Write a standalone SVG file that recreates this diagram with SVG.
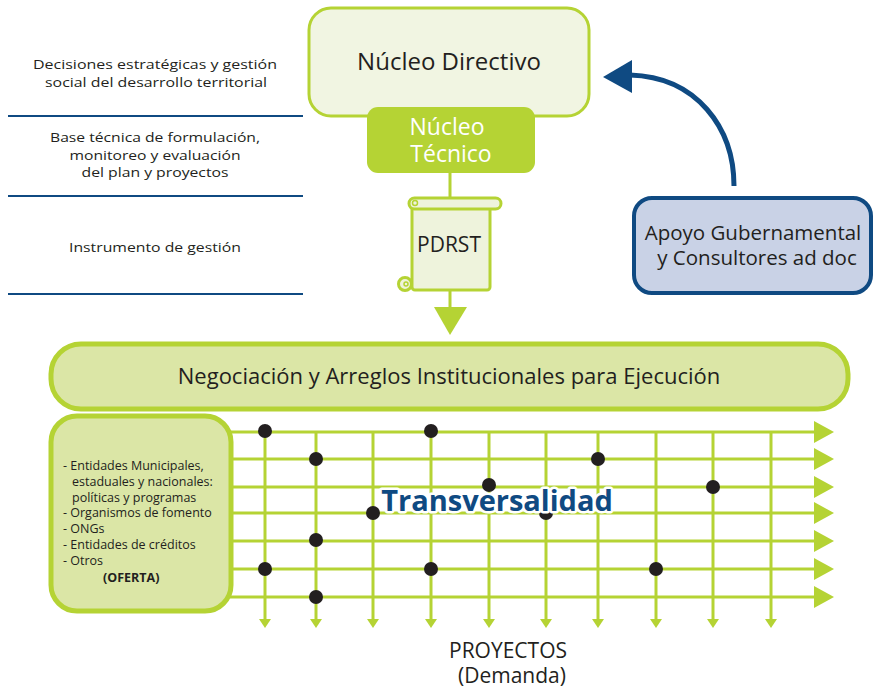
<svg xmlns="http://www.w3.org/2000/svg" width="875" height="690" viewBox="0 0 875 690">
<defs>
<style>
text{font-family:"Open Sans","Noto Sans","DejaVu Sans",sans-serif;fill:#231f20}
.side{font-size:13.5px;text-anchor:middle}
.sep{stroke:#0f4a82;stroke-width:2.2}
.g{stroke:#b5d334;stroke-width:3;fill:none}
.dot{fill:#231f20}
.ofe{font-size:12.5px}
</style>
<marker id="ah" viewBox="0 0 20 22" refX="0" refY="11" markerWidth="20" markerHeight="22" markerUnits="userSpaceOnUse" orient="auto">
<path d="M0,0 L20,11 L0,22 Z" fill="#b5d334"/>
</marker>
<marker id="av" viewBox="0 0 12 9" refX="6" refY="0" markerWidth="12" markerHeight="9" markerUnits="userSpaceOnUse" orient="0">
<path d="M0,0 L12,0 L6,9 Z" fill="#b5d334"/>
</marker>
</defs>
<rect width="875" height="690" fill="#ffffff"/>

<g id="side-labels">
<text class="side" x="155" y="69" textLength="244" lengthAdjust="spacingAndGlyphs">Decisiones estratégicas y gestión</text>
<text class="side" x="156" y="87" textLength="222" lengthAdjust="spacingAndGlyphs">social del desarrollo territorial</text>
<line class="sep" x1="8" y1="116" x2="303" y2="116"/>
<text class="side" x="155" y="142" textLength="210" lengthAdjust="spacingAndGlyphs">Base técnica de formulación,</text>
<text class="side" x="155" y="160" textLength="171" lengthAdjust="spacingAndGlyphs">monitoreo y evaluación</text>
<text class="side" x="155" y="177" textLength="147" lengthAdjust="spacingAndGlyphs">del plan y proyectos</text>
<line class="sep" x1="8" y1="196" x2="303" y2="196"/>
<text class="side" x="155" y="252" textLength="172" lengthAdjust="spacingAndGlyphs">Instrumento de gestión</text>
<line class="sep" x1="8" y1="294" x2="303" y2="294"/>
</g>

<g id="connectors">
<line x1="450" y1="170" x2="450" y2="199" stroke="#b5d334" stroke-width="3"/>
<line x1="450" y1="290" x2="450" y2="310" stroke="#b5d334" stroke-width="3"/>
<path d="M434,307 L467,307 L450,335 Z" fill="#b5d334"/>
<path d="M734,186 C734,128 697,77 630,75" fill="none" stroke="#0f4a82" stroke-width="5"/>
<path d="M603,77 L632,60 L632,93 Z" fill="#0f4a82"/>
</g>

<g id="nucleo-directivo">
<rect x="309" y="8" width="280" height="108" rx="22" fill="#f1f5e2" stroke="#b5d334" stroke-width="3"/>
<text x="449" y="70" font-size="24" text-anchor="middle">Núcleo Directivo</text>
</g>

<g id="nucleo-tecnico">
<rect x="367" y="107" width="168" height="66" rx="11" fill="#b5d334"/>
<text x="447" y="135" font-size="23" text-anchor="middle" style="fill:#ffffff">Núcleo</text>
<text x="451" y="162" font-size="23" text-anchor="middle" style="fill:#ffffff">Técnico</text>
</g>

<g id="pdrst">
<rect x="412" y="203" width="78" height="87" rx="3" fill="#eef3dc" stroke="#b5d334" stroke-width="3"/>
<rect x="409" y="198" width="92" height="11" rx="5.5" fill="#eef3dc" stroke="#b5d334" stroke-width="3"/>
<circle cx="415" cy="203" r="2.5" fill="none" stroke="#b5d334" stroke-width="1.5"/>
<circle cx="405" cy="284" r="6.5" fill="#eef3dc" stroke="#b5d334" stroke-width="3"/>
<circle cx="406" cy="284" r="2" fill="none" stroke="#b5d334" stroke-width="1.5"/>
<text x="449" y="252" font-size="21" text-anchor="middle">PDRST</text>
</g>

<g id="apoyo">
<rect x="634" y="198" width="237" height="95" rx="18" fill="#c9d2e6" stroke="#0f4a82" stroke-width="4"/>
<text x="753" y="240" font-size="20.5" text-anchor="middle">Apoyo Gubernamental</text>
<text x="757" y="265" font-size="20.5" text-anchor="middle">y Consultores ad doc</text>
</g>

<g id="negociacion">
<rect x="51" y="344" width="797" height="65" rx="30" fill="#dbe6a6" stroke="#b5d334" stroke-width="5"/>
<text x="449" y="384" font-size="22" text-anchor="middle">Negociación y Arreglos Institucionales para Ejecución</text>
</g>

<g id="grid">
<g class="g" marker-end="url(#ah)">
<line x1="230" y1="432" x2="814" y2="432"/>
<line x1="230" y1="459" x2="814" y2="459"/>
<line x1="230" y1="487" x2="814" y2="487"/>
<line x1="230" y1="513" x2="814" y2="513"/>
<line x1="230" y1="541" x2="814" y2="541"/>
<line x1="230" y1="569" x2="814" y2="569"/>
<line x1="230" y1="597" x2="814" y2="597"/>
</g>
<g class="g" marker-end="url(#av)">
<line x1="265" y1="432" x2="265" y2="619"/>
<line x1="316" y1="432" x2="316" y2="619"/>
<line x1="373" y1="432" x2="373" y2="619"/>
<line x1="431" y1="432" x2="431" y2="619"/>
<line x1="489" y1="432" x2="489" y2="619"/>
<line x1="546" y1="432" x2="546" y2="619"/>
<line x1="598" y1="432" x2="598" y2="619"/>
<line x1="656" y1="432" x2="656" y2="619"/>
<line x1="713" y1="432" x2="713" y2="619"/>
<line x1="771" y1="432" x2="771" y2="619"/>
</g>
<g class="dot">
<circle cx="265" cy="431" r="7"/>
<circle cx="431" cy="431" r="7"/>
<circle cx="316" cy="459" r="7"/>
<circle cx="598" cy="459" r="7"/>
<circle cx="489" cy="485" r="7"/>
<circle cx="713" cy="487" r="7"/>
<circle cx="373" cy="513" r="7"/>
<circle cx="546" cy="513" r="7"/>
<circle cx="316" cy="540" r="7"/>
<circle cx="265" cy="569" r="7"/>
<circle cx="431" cy="569" r="7"/>
<circle cx="656" cy="569" r="7"/>
<circle cx="316" cy="597" r="7"/>
</g>
<text x="497" y="511" font-size="29" font-weight="bold" text-anchor="middle" style="fill:#0f4a82;stroke:#ffffff;stroke-width:5;paint-order:stroke;stroke-linejoin:round">Transversalidad</text>
</g>

<g id="oferta">
<rect x="51" y="416" width="180" height="195" rx="26" fill="#dbe6a6" stroke="#b5d334" stroke-width="5"/>
<text class="ofe" x="63" y="470">- Entidades Municipales,</text>
<text class="ofe" x="72" y="486">estaduales y nacionales:</text>
<text class="ofe" x="72" y="502">políticas y programas</text>
<text class="ofe" x="63" y="517">- Organismos de fomento</text>
<text class="ofe" x="63" y="533">- ONGs</text>
<text class="ofe" x="63" y="549">- Entidades de créditos</text>
<text class="ofe" x="63" y="565">- Otros</text>
<text class="ofe" x="103" y="582" font-weight="bold">(OFERTA)</text>
</g>

<g id="proyectos">
<text x="508" y="658" font-size="21" text-anchor="middle">PROYECTOS</text>
<text x="512" y="683" font-size="21" text-anchor="middle">(Demanda)</text>
</g>
</svg>
